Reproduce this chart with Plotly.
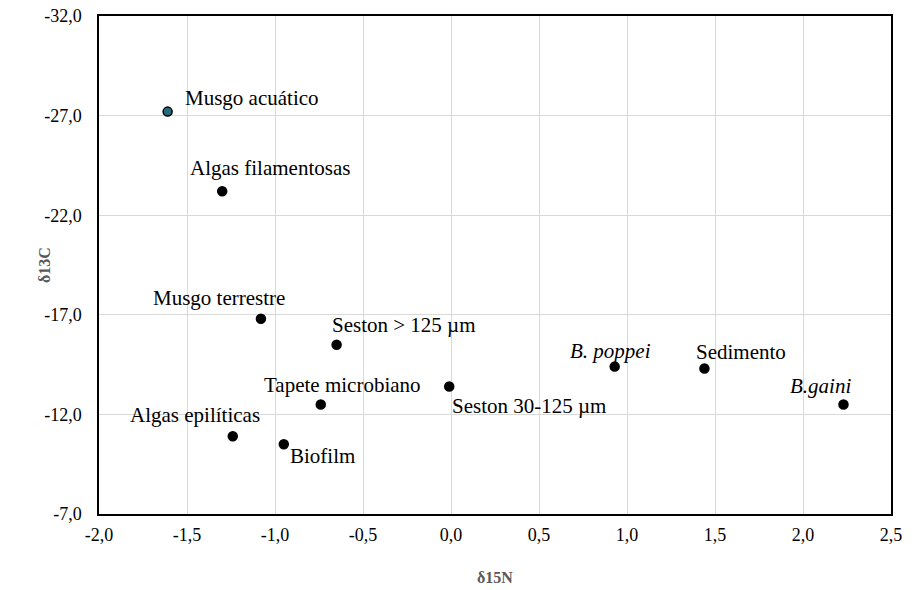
import plotly.graph_objects as go

# Muestras: δ15N (x) y δ13C (y)
muestras = ["Musgo acuático", "Algas filamentosas", "Musgo terrestre", "Seston > 125 µm",
            "Tapete microbiano", "Seston 30-125 µm", "Algas epilíticas", "Biofilm",
            "<i>B. poppei</i>", "Sedimento", "<i>B.gaini</i>"]
d15n = [-1.61, -1.30, -1.08, -0.65, -0.74, -0.01, -1.24, -0.95, 0.93, 1.44, 2.23]
d13c = [-27.2, -23.2, -16.8, -15.5, -12.5, -13.4, -10.9, -10.5, -14.4, -14.3, -12.5]

x_ticks = [-2.0, -1.5, -1.0, -0.5, 0.0, 0.5, 1.0, 1.5, 2.0, 2.5]
x_tick_labels = ["-2,0", "-1,5", "-1,0", "-0,5", "0,0", "0,5", "1,0", "1,5", "2,0", "2,5"]
y_ticks = [-32.0, -27.0, -22.0, -17.0, -12.0, -7.0]
y_tick_labels = ["-32,0", "-27,0", "-22,0", "-17,0", "-12,0", "-7,0"]

# desplazamiento de cada etiqueta respecto a su punto (px)
label_offsets = [(84, 14), (48, 23), (-42, 21), (67, 20), (22, 19), (80, -19),
                 (-38, 21), (39, -12), (-4, 16), (37, 17), (-23, 18)]

marker_fill = ["#236d7d"] + ["black"] * (len(muestras) - 1)

font_family = "Liberation Serif"

fig = go.Figure()
fig.add_trace(go.Scatter(
    x=d15n, y=d13c, mode="markers",
    marker=dict(size=9, color=marker_fill, line=dict(color="black", width=1.5)),
    hoverinfo="skip", showlegend=False,
))

annotations = []
for name, xv, yv, (dx, dy) in zip(muestras, d15n, d13c, label_offsets):
    annotations.append(dict(
        x=xv, y=yv, xref="x", yref="y", text=name, showarrow=False,
        xanchor="center", yanchor="middle", xshift=dx, yshift=dy,
        font=dict(family=font_family, size=21, color="black"),
    ))

annotations.append(dict(
    text="<b>δ13C</b>", xref="paper", yref="paper", x=0, y=0.5, xshift=-55,
    showarrow=False, textangle=-90, xanchor="center", yanchor="middle",
    font=dict(family=font_family, size=16, color="#595959"),
))
annotations.append(dict(
    text="<b>δ15N</b>", xref="paper", yref="paper", x=0.5, y=0, yshift=-63,
    showarrow=False, xanchor="center", yanchor="middle",
    font=dict(family=font_family, size=16, color="#595959"),
))

axis_common = dict(
    showgrid=True, gridcolor="#d9d9d9", gridwidth=1,
    showline=True, linecolor="black", linewidth=1.5, mirror=True,
    zeroline=False, ticks="", automargin=False,
    tickfont=dict(family=font_family, size=18, color="black"),
)

fig.update_layout(
    width=912, height=590,
    margin=dict(l=99, r=21, t=16, b=76, pad=0),
    paper_bgcolor="white", plot_bgcolor="white",
    font=dict(family=font_family),
    xaxis=dict(range=[-2.0, 2.5], tickvals=x_ticks, ticktext=x_tick_labels,
               ticklabelstandoff=4, **axis_common),
    yaxis=dict(range=[-7.0, -32.0], tickvals=y_ticks, ticktext=y_tick_labels,
               ticklabelstandoff=12, **axis_common),
    annotations=annotations,
)

fig.write_html("out.html")
